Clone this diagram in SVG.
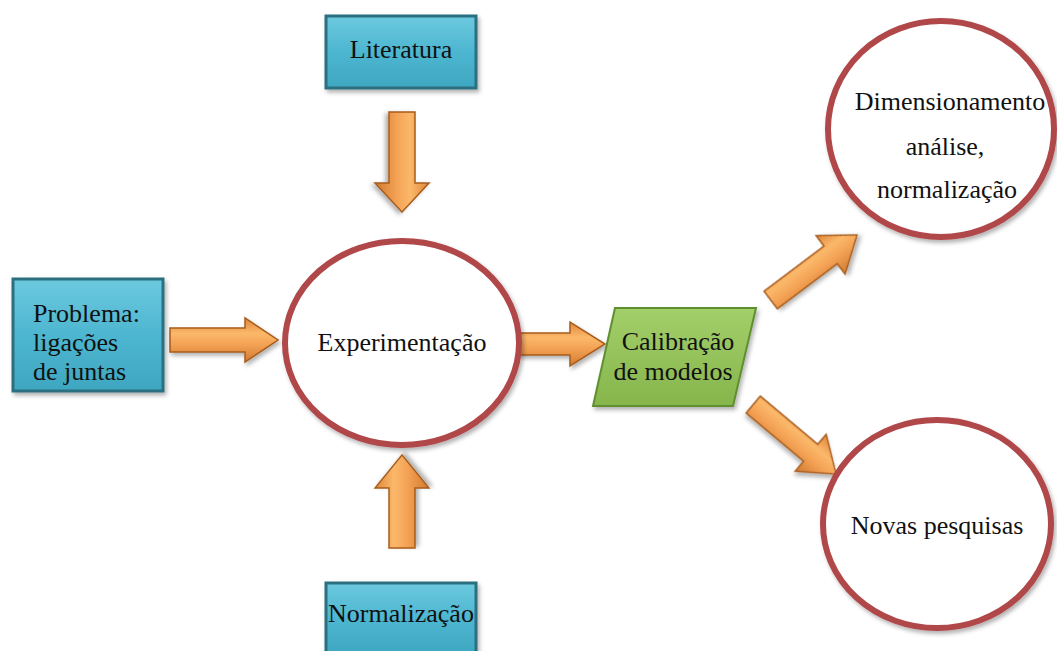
<svg xmlns="http://www.w3.org/2000/svg" width="1057" height="651" viewBox="0 0 1057 651">
<defs>
<linearGradient id="gBox" x1="0" y1="0" x2="0" y2="1">
<stop offset="0" stop-color="#6cc9df"/><stop offset="0.5" stop-color="#4db6d0"/><stop offset="1" stop-color="#3fa6c0"/>
</linearGradient>
<linearGradient id="gGreen" x1="0" y1="0" x2="0" y2="1">
<stop offset="0" stop-color="#a3cf6a"/><stop offset="1" stop-color="#86b54c"/>
</linearGradient>
<linearGradient id="gArrow" x1="0" y1="0" x2="0" y2="1">
<stop offset="0" stop-color="#e0873a"/><stop offset="0.35" stop-color="#fbb86a"/><stop offset="0.6" stop-color="#f4a255"/><stop offset="1" stop-color="#d07a30"/>
</linearGradient>
<filter id="sh" x="-10%" y="-10%" width="125%" height="130%">
<feDropShadow dx="2" dy="3" stdDeviation="2" flood-color="#000" flood-opacity="0.3"/>
</filter>
</defs>
<style>
.box{fill:url(#gBox);stroke:#2c6f80;stroke-width:3;filter:url(#sh);}
.circ{fill:#fff;stroke:#b0464a;stroke-width:6;filter:url(#sh);}
.par{fill:url(#gGreen);stroke:#5f8f2e;stroke-width:2;filter:url(#sh);}
.arr{fill:url(#gArrow);stroke:#a85c1c;stroke-width:1.5;filter:url(#sh);}
</style>
<rect width="1057" height="651" fill="#fff"/>

<g id="connectors">
<polygon class="arr" transform="translate(278,340)" points="-108,-12 -33,-12 -33,-22 0,0 -33,22 -33,12 -108,12"/>
<polygon class="arr" transform="translate(605,344)" points="-87,-11 -35,-11 -35,-22 0,0 -35,22 -35,11 -87,11"/>
<polygon class="arr" transform="translate(402,212) rotate(90)" points="-100,-13 -29,-13 -29,-27 0,0 -29,27 -29,13 -100,13"/>
<polygon class="arr" transform="translate(402,455) rotate(-90)" points="-93,-13 -33,-13 -33,-27 0,0 -33,27 -33,13 -93,13"/>
<polygon class="arr" transform="translate(857,235) rotate(-37)" points="-108,-11 -33,-11 -33,-24 0,0 -33,24 -33,11 -108,11"/>
<polygon class="arr" transform="translate(836,474) rotate(40)" points="-108,-11 -33,-11 -33,-24 0,0 -33,24 -33,11 -108,11"/>
</g>

<g id="literatura">
<rect class="box" x="326" y="16" width="150" height="72"/>
<text x="401" y="58" style="font-family:'Liberation Serif',serif;font-size:26px;fill:#111;text-anchor:middle">Literatura</text>
</g>

<g id="problema">
<rect class="box" x="13" y="279" width="150" height="112"/>
<text x="33" y="322" style="font-family:'Liberation Serif',serif;font-size:26px;fill:#111">Problema:</text>
<text x="33" y="351" style="font-family:'Liberation Serif',serif;font-size:26px;fill:#111">ligações</text>
<text x="33" y="380" style="font-family:'Liberation Serif',serif;font-size:26px;fill:#111">de juntas</text>
</g>

<g id="normalizacao">
<rect class="box" x="326" y="583" width="150" height="72"/>
<text x="401" y="622" style="font-family:'Liberation Serif',serif;font-size:26px;fill:#111;text-anchor:middle">Normalização</text>
</g>

<g id="experimentacao">
<ellipse class="circ" cx="402" cy="343" rx="117" ry="102"/>
<text x="402" y="351" style="font-family:'Liberation Serif',serif;font-size:26px;fill:#111;text-anchor:middle">Experimentação</text>
</g>

<g id="calibracao">
<polygon class="par" points="615,308 756,308 733,406 593,406"/>
<text x="678" y="350" style="font-family:'Liberation Serif',serif;font-size:26px;fill:#111;text-anchor:middle">Calibração</text>
<text x="673" y="380" style="font-family:'Liberation Serif',serif;font-size:26px;fill:#111;text-anchor:middle">de modelos</text>
</g>

<g id="dimensionamento">
<ellipse class="circ" cx="941" cy="129" rx="113" ry="108"/>
<text x="950" y="110" style="font-family:'Liberation Serif',serif;font-size:26px;fill:#111;text-anchor:middle">Dimensionamento</text>
<text x="945" y="155" style="font-family:'Liberation Serif',serif;font-size:26px;fill:#111;text-anchor:middle">análise,</text>
<text x="947" y="198" style="font-family:'Liberation Serif',serif;font-size:26px;fill:#111;text-anchor:middle">normalização</text>
</g>

<g id="novas">
<ellipse class="circ" cx="937" cy="524" rx="114" ry="104"/>
<text x="937" y="534" style="font-family:'Liberation Serif',serif;font-size:26px;fill:#111;text-anchor:middle">Novas pesquisas</text>
</g>
</svg>
